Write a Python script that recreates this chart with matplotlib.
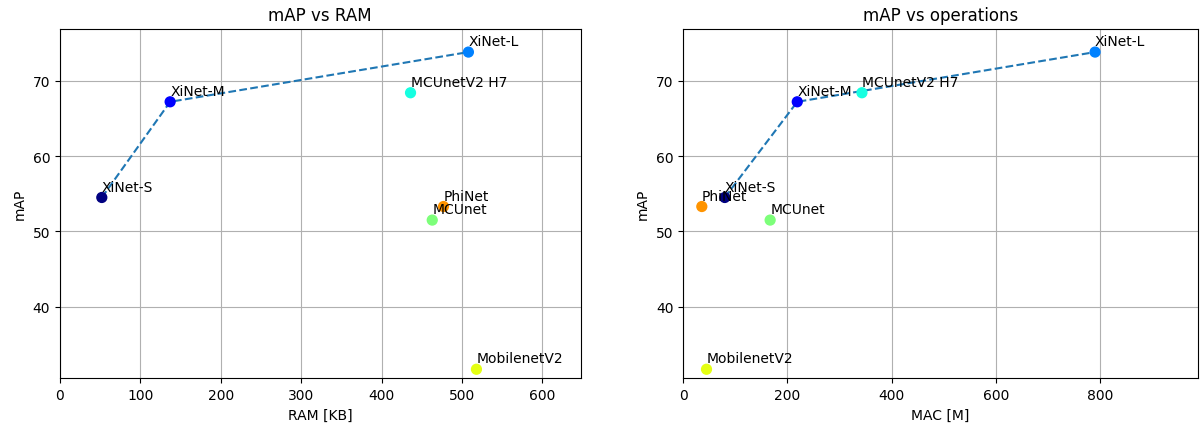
import numpy as np
import matplotlib
matplotlib.use("Agg")
import matplotlib.pyplot as plt

names = ["XiNet-S", "XiNet-M", "XiNet-L", "MCUnetV2 H7", "MCUnet", "MobilenetV2", "PhiNet"]
ram = [52, 137, 508, 436, 463, 518, 477]
mac = [80, 219, 790, 343, 167, 45, 36]
mAP = [54.5, 67.2, 73.8, 68.4, 51.5, 31.7, 53.3]
xinet = [0, 1, 2]

colors = plt.cm.jet(np.arange(len(names)) / 8)

fig = plt.figure(figsize=(12, 4.27), dpi=100)
ax1 = fig.add_axes([0.05, 0.1117, 0.4338, 0.8187])
ax2 = fig.add_axes([0.5692, 0.1117, 0.4292, 0.8187])


def panel(ax, xs, title, xlabel):
    ax.plot([xs[i] for i in xinet], [mAP[i] for i in xinet], '--', color='C0', zorder=2)
    ax.scatter(xs, mAP, c=colors, s=50, zorder=3)
    for i, n in enumerate(names):
        ax.annotate(n, (xs[i], mAP[i]), textcoords="offset points", xytext=(0, 5))
    ax.set_xlim(0, max(xs) * 1.25)
    ax.set_ylim(30.5, 76.9)
    ax.set_yticks([40, 50, 60, 70])
    ax.grid(True)
    ax.set_axisbelow(True)
    ax.set_title(title)
    ax.set_xlabel(xlabel)
    ax.set_ylabel("mAP")


panel(ax1, ram, "mAP vs RAM", "RAM [KB]")
panel(ax2, mac, "mAP vs operations", "MAC [M]")
ax2.set_xticks([0, 200, 400, 600, 800])

fig.savefig("out.png", dpi=100)
